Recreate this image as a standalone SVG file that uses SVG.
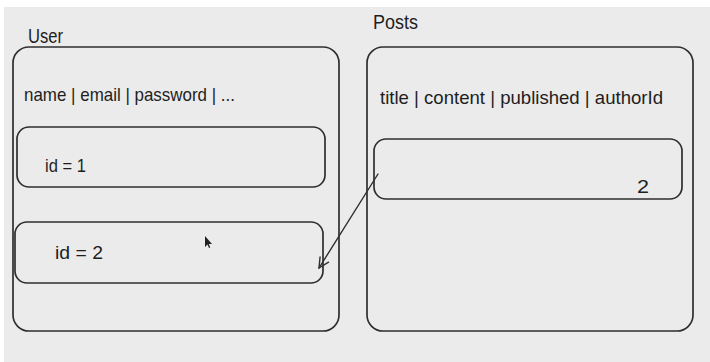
<svg xmlns="http://www.w3.org/2000/svg" width="710" height="362" viewBox="0 0 710 362">
  <style>
    .box { fill: none; stroke: #2f2f2f; stroke-width: 1.7; }
    .lbl { font-family: "Liberation Sans", Arial, sans-serif; fill: #1e1e1e; }
    .conn { fill: none; stroke: #2f2f2f; stroke-width: 1.4; stroke-linecap: round; stroke-linejoin: round; }
  </style>
  <defs>
    <marker id="arr" viewBox="0 0 12 12" refX="11" refY="6" markerWidth="12" markerHeight="12" markerUnits="userSpaceOnUse" orient="auto">
      <path d="M1,1 L11,6 L1,11" fill="none" stroke="#2f2f2f" stroke-width="1.4" stroke-linecap="round"/>
    </marker>
  </defs>
  <rect x="0" y="0" width="710" height="362" fill="#ffffff"/>
  <rect x="4" y="7" width="706" height="355" fill="#ebebeb"/>

  <g id="user">
    <text class="lbl" x="28" y="43" font-size="20" textLength="35" lengthAdjust="spacingAndGlyphs">User</text>
    <rect class="box" x="13" y="47" width="326" height="284" rx="16"/>
    <text class="lbl" x="24" y="101" font-size="19" textLength="211" lengthAdjust="spacingAndGlyphs">name | email | password | ...</text>
  </g>

  <g id="user-id1">
    <rect class="box" x="17" y="127" width="308" height="60" rx="12"/>
    <text class="lbl" x="45" y="172" font-size="19" textLength="41" lengthAdjust="spacingAndGlyphs">id = 1</text>
  </g>

  <g id="user-id2">
    <rect class="box" x="15" y="222" width="308" height="61" rx="12"/>
    <text class="lbl" x="55" y="259" font-size="19" textLength="48" lengthAdjust="spacingAndGlyphs">id = 2</text>
  </g>

  <g id="posts">
    <text class="lbl" x="373" y="29" font-size="20" textLength="45" lengthAdjust="spacingAndGlyphs">Posts</text>
    <rect class="box" x="367" y="47" width="326" height="284" rx="16"/>
    <text class="lbl" x="380" y="104" font-size="19" textLength="283" lengthAdjust="spacingAndGlyphs">title | content | published | authorId</text>
  </g>

  <g id="post-row">
    <rect class="box" x="374" y="139" width="308" height="60" rx="12"/>
    <text class="lbl" x="637" y="193" font-size="19" textLength="12" lengthAdjust="spacingAndGlyphs">2</text>
  </g>

  <g id="connectors">
    <line class="conn" x1="378" y1="174" x2="319" y2="268" marker-end="url(#arr)"/>
  </g>

  <g id="cursor">
    <path d="M205,236 L205,247 L207.5,244.5 L209,248 L210.2,247.4 L208.8,244 L212,244 Z" fill="#222"/>
  </g>
</svg>
